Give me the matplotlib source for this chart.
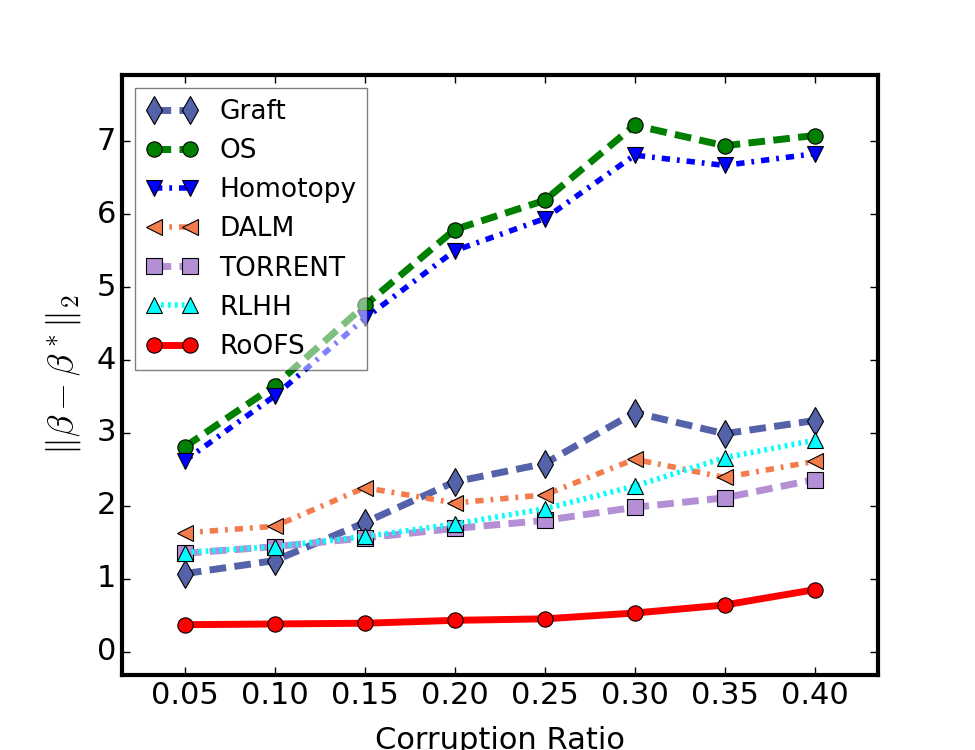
import numpy as np
import matplotlib
matplotlib.use('Agg')
from matplotlib import pyplot as plt

plt.style.use('classic')
plt.rcParams['lines.scale_dashes'] = False

ratios = [0.05, 0.10, 0.15, 0.20, 0.25, 0.30, 0.35, 0.40]

graft = [1.07, 1.25, 1.77, 2.33, 2.58, 3.28, 2.99, 3.17]
os_err = [2.81, 3.65, 4.75, 5.79, 6.19, 7.22, 6.94, 7.08]
homotopy = [2.62, 3.51, 4.57, 5.50, 5.94, 6.81, 6.67, 6.83]
dalm = [1.63, 1.72, 2.25, 2.04, 2.15, 2.64, 2.39, 2.61]
torrent = [1.35, 1.44, 1.56, 1.69, 1.80, 1.98, 2.11, 2.36]
rlhh = [1.36, 1.44, 1.58, 1.75, 1.96, 2.27, 2.66, 2.90]
roofs = [0.37, 0.38, 0.39, 0.43, 0.45, 0.53, 0.64, 0.85]

tick_labels = ['0.05', '0.10', '0.15', '0.20', '0.25', '0.30', '0.35', '0.40']

# dash patterns in points
dashed = (0, (12, 6))
dashdot = (0, (6, 5, 2, 5))
dotted = (0, (2, 3))

# (name, values, colour, linestyle, linewidth, marker, markersize)
series = [
    ('Graft', graft, '#5463A9', dashed, 5, 'd', 14),
    ('OS', os_err, 'green', dashed, 5, 'o', 11),
    ('Homotopy', homotopy, 'blue', dashdot, 4, 'v', 11),
    ('DALM', dalm, '#F47C4C', dashdot, 4, '<', 11),
    ('TORRENT', torrent, '#B48FD6', dashed, 5, 's', 11),
    ('RLHH', rlhh, 'cyan', dotted, 4, '^', 11),
    ('RoOFS', roofs, 'red', '-', 5, 'o', 11),
]

fig = plt.figure(figsize=(9.75, 7.5), dpi=100)
ax = fig.add_subplot(111)

for name, vals, col, ls, lw, mk, ms in series:
    ax.plot(ratios, vals, color=col, linestyle=ls, linewidth=lw,
            marker=mk, markersize=ms, markeredgecolor='black',
            markeredgewidth=0.8, label=name)

ax.set_xlim(0.015, 0.435)
ax.set_ylim(-0.32, 7.91)
ax.set_xticks(ratios)
ax.set_xticklabels(tick_labels)
ax.set_yticks(range(0, 8))
ax.tick_params(labelsize=22, width=1, length=6)
for sp in ax.spines.values():
    sp.set_linewidth(3)

ax.set_xlabel('Corruption Ratio', fontsize=22, labelpad=12)
ax.set_ylabel(r'$\|\beta - \beta^*\|_2$', fontsize=26, labelpad=10)

leg = ax.legend(loc='upper left', fontsize=19, numpoints=2, framealpha=0.5,
                handlelength=2.0)

fig.savefig('out.png', dpi=100)
